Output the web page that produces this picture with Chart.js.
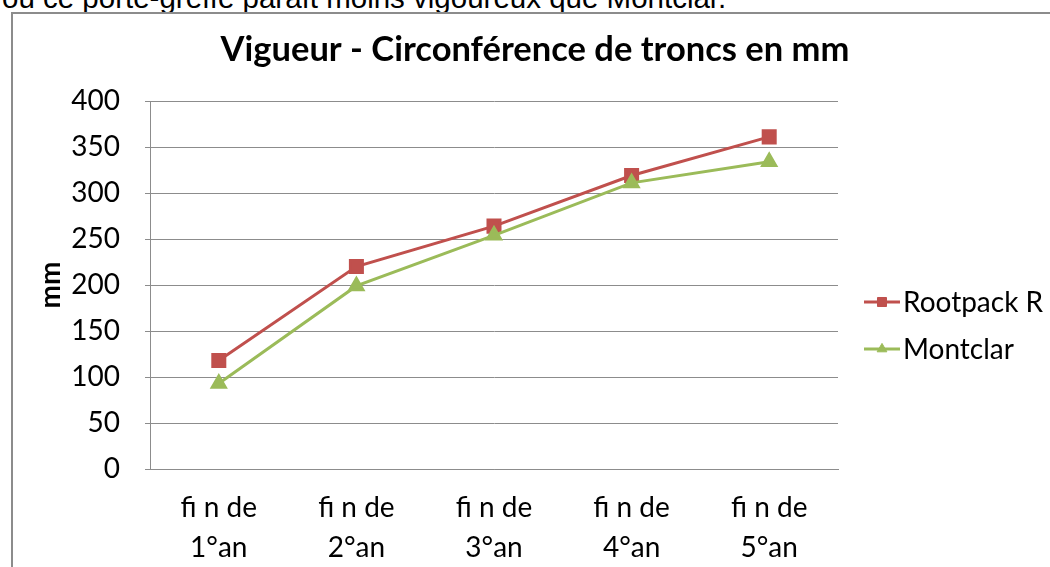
<!DOCTYPE html>
<html><head><meta charset="utf-8">
<script src="https://cdn.jsdelivr.net/npm/chart.js@4.4.0/dist/chart.umd.min.js"></script>
<style>
html,body{margin:0;padding:0;background:#fff;overflow:hidden;width:1050px;height:567px;}
#note{position:absolute;left:2px;top:-17px;font-family:"Liberation Sans",Arial,sans-serif;font-size:29.5px;line-height:30px;white-space:nowrap;color:#000;}
#frame{position:absolute;left:11px;top:12px;width:1100px;height:600px;border-left:2px solid #8c8c8c;border-top:2px solid #8c8c8c;}
#c{position:absolute;left:0;top:0;}
</style></head><body>
<div id="note">ou ce porte-greffe paraît moins vigoureux que Montclar.</div>
<div id="frame"></div>
<canvas id="c" width="1050" height="567"></canvas>
<script>
const chartTitle = 'Vigueur - Circonférence de troncs en mm';
const yAxisTitle = 'mm';
const categories = [['fi n de','1°an'],['fi n de','2°an'],['fi n de','3°an'],['fi n de','4°an'],['fi n de','5°an']];
const seriesNames = ['Rootpack R','Montclar'];
const rootpackR = [118, 220, 264, 319, 361];
const montclar = [93, 199, 254, 311, 334];
const yTicks = [0, 50, 100, 150, 200, 250, 300, 350, 400];

const FONT = 'Lato';

const sideLegend = {
  id: 'sideLegend',
  beforeInit(chart) {
    const box = {
      position: 'right', weight: 1000, fullSize: false, options: {},
      left: 0, top: 0, right: 0, bottom: 0, width: 0, height: 0,
      isHorizontal() { return false; },
      update(maxW, maxH) { this.width = 212; this.height = maxH; },
      getPadding() { return {left:0,right:0,top:0,bottom:0}; },
      draw() {
        const ctx = chart.ctx;
        ctx.save();
        chart.data.datasets.forEach((d, i) => {
          const y = this.top + 201 + i * 47;
          const x0 = this.left + 26, x1 = this.left + 62;
          ctx.strokeStyle = d.borderColor; ctx.lineWidth = 3;
          ctx.beginPath(); ctx.moveTo(x0, y); ctx.lineTo(x1, y); ctx.stroke();
          ctx.fillStyle = d.pointBackgroundColor; ctx.strokeStyle = d.pointBorderColor; ctx.lineWidth = 1;
          Chart.helpers.drawPoint(ctx, {pointStyle: d.pointStyle, radius: d.pointRadius * 0.75, rotation: 0, borderWidth: 1}, (x0 + x1) / 2, y);
          ctx.fillStyle = '#000';
          ctx.font = '28px ' + FONT;
          ctx.textBaseline = 'middle'; ctx.textAlign = 'left';
          ctx.fillText(d.label, x1 + 3, y + 1);
        });
        ctx.restore();
      }
    };
    Chart.layouts.addBox(chart, box);
  }
};

new Chart(document.getElementById('c'), {
  type: 'line',
  data: {
    labels: categories,
    datasets: [
      {label: seriesNames[0], data: rootpackR, borderColor: '#C0504D', backgroundColor: '#C0504D',
       pointBackgroundColor: '#C0504D', pointBorderColor: '#C0504D', pointStyle: 'rect', pointRadius: 8.5,
       pointHoverRadius: 8.5, borderWidth: 3, tension: 0, order: 1},
      {label: seriesNames[1], data: montclar, borderColor: '#9BBB59', backgroundColor: '#9BBB59',
       pointBackgroundColor: '#9BBB59', pointBorderColor: '#9BBB59', pointStyle: 'triangle', pointRadius: 7.5,
       pointHoverRadius: 7.5, borderWidth: 3, tension: 0, order: 0}
    ]
  },
  options: {
    responsive: false, animation: false, devicePixelRatio: 1, events: [],
    layout: {padding: {left: 20, right: 0, top: 0, bottom: 0}},
    plugins: {
      legend: {display: false},
      tooltip: {enabled: false},
      title: {display: true, text: chartTitle, color: '#000',
        font: {family: FONT, size: 34.5, weight: 'bold'}, padding: {top: 29.3, bottom: 30.3}}
    },
    scales: {
      x: {
        offset: true,
        afterFit(s) { s.height = 98; },
        grid: {display: false, drawTicks: false},
        border: {display: true, color: '#8c8c8c', width: 1},
        ticks: {font: {family: FONT, size: 28, lineHeight: 1.42}, color: '#000', padding: 19, maxRotation: 0, autoSkip: false}
      },
      y: {
        min: 0, max: 400,
        afterBuildTicks(s) { s.ticks = yTicks.map(v => ({value: v})); },
        afterFit(s) { s.width = 130; },
        grid: {color: '#8c8c8c', lineWidth: 1, tickLength: 5, drawTicks: true},
        border: {display: true, color: '#8c8c8c', width: 1},
        ticks: {font: {family: FONT, size: 28}, color: '#000', padding: 25},
        title: {display: true, text: yAxisTitle, color: '#000', font: {family: FONT, size: 28, weight: 'bold'}, padding: {top: 14, bottom: 0}}
      }
    }
  },
  plugins: [sideLegend]
});
</script>
</body></html>
